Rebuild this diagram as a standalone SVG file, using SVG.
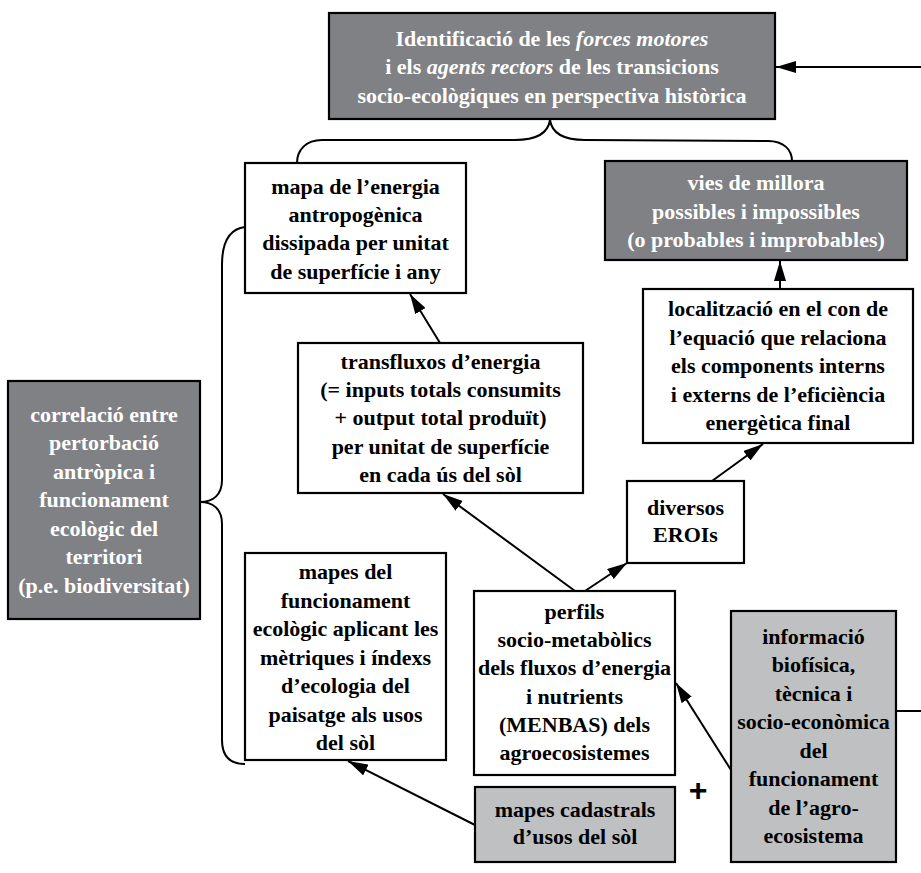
<svg xmlns="http://www.w3.org/2000/svg" width="921" height="873" viewBox="0 0 921 873">
<style>
.box{stroke:#000;stroke-width:2.2}
.white{fill:#fff}
.dark{fill:#808185}
.light{fill:#bfc0c2}
text{font-family:"Liberation Serif","Times New Roman",serif;font-weight:bold;font-size:22px;text-anchor:middle}
.wt{fill:#fff}
.bt{fill:#000}
.it{font-style:italic}
.con{fill:none;stroke:#000;stroke-width:2}
</style>
<defs>
<marker id="ah" viewBox="0 0 20 12" refX="20" refY="6" markerWidth="20" markerHeight="12" markerUnits="userSpaceOnUse" orient="auto">
<path d="M0,0 L20,6 L0,12 Z" fill="#000"/>
</marker>
</defs>
<g id="connectors">
<line class="con" x1="921" y1="67" x2="776" y2="67" marker-end="url(#ah)"/>
<path class="con" d="M550,120 C548,134 535,140 515,140 L322,140 C306,140 297,150 297,163"/>
<path class="con" d="M550,120 C552,134 565,140 585,140 L768,141 C784,141 792,150 792,161"/>
<path class="con" d="M245,227 C229,229 222,242 222,265 L222,480 C222,495 213,502 200,502 C213,502 222,509 222,524 L222,740 C222,757 230,764 245,764"/>
<line class="con" x1="440" y1="343" x2="410" y2="294" marker-end="url(#ah)"/>
<line class="con" x1="780" y1="289" x2="780" y2="261" marker-end="url(#ah)"/>
<line class="con" x1="712" y1="481" x2="763" y2="444" marker-end="url(#ah)"/>
<line class="con" x1="575" y1="591" x2="443" y2="494" marker-end="url(#ah)"/>
<line class="con" x1="585" y1="591" x2="627" y2="563" marker-end="url(#ah)"/>
<line class="con" x1="475" y1="825" x2="348" y2="761" marker-end="url(#ah)"/>
<line class="con" x1="731" y1="770" x2="676" y2="683" marker-end="url(#ah)"/>
<line class="con" x1="896" y1="711" x2="921" y2="711"/>
</g>
<g id="top">
<rect class="box dark" x="329" y="13" width="446" height="106"/>
<text class="wt" x="552" y="46">Identificació de les <tspan class="it">forces motores</tspan></text>
<text class="wt" x="552" y="74">i els <tspan class="it">agents rectors</tspan> de les transicions</text>
<text class="wt" x="552" y="103">socio-ecològiques en perspectiva històrica</text>
</g>
<g id="mapa">
<rect class="box white" x="245" y="163" width="221" height="130"/>
<text class="bt" x="355.5" y="194">mapa de l’energia</text>
<text class="bt" x="355.5" y="222">antropogènica</text>
<text class="bt" x="355.5" y="250">dissipada per unitat</text>
<text class="bt" x="355.5" y="279">de superfície i any</text>
</g>
<g id="vies">
<rect class="box dark" x="605" y="161" width="302" height="99"/>
<text class="wt" x="756" y="190">vies de millora</text>
<text class="wt" x="756" y="219">possibles i impossibles</text>
<text class="wt" x="756" y="247">(o probables i improbables)</text>
</g>
<g id="localitzacio">
<rect class="box white" x="643" y="289" width="270" height="154"/>
<text class="bt" x="778" y="316">localització en el con de</text>
<text class="bt" x="778" y="345">l’equació que relaciona</text>
<text class="bt" x="778" y="373">els components interns</text>
<text class="bt" x="778" y="402">i externs de l’eficiència</text>
<text class="bt" x="778" y="430">energètica final</text>
</g>
<g id="transfluxos">
<rect class="box white" x="298" y="343" width="285" height="150"/>
<text class="bt" x="440.5" y="369">transfluxos d’energia</text>
<text class="bt" x="440.5" y="397">(= inputs totals consumits</text>
<text class="bt" x="440.5" y="425">+ output total produït)</text>
<text class="bt" x="440.5" y="454">per unitat de superfície</text>
<text class="bt" x="440.5" y="482">en cada ús del sòl</text>
</g>
<g id="diversos">
<rect class="box white" x="627" y="481" width="117" height="82"/>
<text class="bt" x="685.5" y="515">diversos</text>
<text class="bt" x="685.5" y="542">EROIs</text>
</g>
<g id="correlacio">
<rect class="box dark" x="8" y="381" width="192" height="238"/>
<text class="wt" x="104" y="422">correlació entre</text>
<text class="wt" x="104" y="450">pertorbació</text>
<text class="wt" x="104" y="479">antròpica i</text>
<text class="wt" x="104" y="507">funcionament</text>
<text class="wt" x="104" y="536">ecològic del</text>
<text class="wt" x="104" y="564">territori</text>
<text class="wt" x="104" y="593">(p.e. biodiversitat)</text>
</g>
<g id="mapes-funcionament">
<rect class="box white" x="245" y="553" width="201" height="207"/>
<text class="bt" x="345.5" y="579">mapes del</text>
<text class="bt" x="345.5" y="608">funcionament</text>
<text class="bt" x="345.5" y="636">ecològic aplicant les</text>
<text class="bt" x="345.5" y="665">mètriques i índexs</text>
<text class="bt" x="345.5" y="693">d’ecologia del</text>
<text class="bt" x="345.5" y="722">paisatge als usos</text>
<text class="bt" x="345.5" y="750">del sòl</text>
</g>
<g id="perfils">
<rect class="box white" x="474" y="591" width="201" height="184"/>
<text class="bt" x="574.5" y="619">perfils</text>
<text class="bt" x="574.5" y="647">socio-metabòlics</text>
<text class="bt" x="574.5" y="675">dels fluxos d’energia</text>
<text class="bt" x="574.5" y="704">i nutrients</text>
<text class="bt" x="574.5" y="732">(MENBAS) dels</text>
<text class="bt" x="574.5" y="760">agroecosistemes</text>
</g>
<g id="cadastrals">
<rect class="box light" x="475" y="787" width="200" height="75"/>
<text class="bt" x="575" y="817">mapes cadastrals</text>
<text class="bt" x="575" y="844">d’usos del sòl</text>
</g>
<g id="informacio">
<rect class="box light" x="731" y="611" width="165" height="251"/>
<text class="bt" x="813.5" y="644">informació</text>
<text class="bt" x="813.5" y="672">biofísica,</text>
<text class="bt" x="813.5" y="701">tècnica i</text>
<text class="bt" x="813.5" y="729">socio-econòmica</text>
<text class="bt" x="813.5" y="758">del</text>
<text class="bt" x="813.5" y="786">funcionament</text>
<text class="bt" x="813.5" y="815">de l’agro-</text>
<text class="bt" x="813.5" y="843">ecosistema</text>
</g>
<g id="plus">
<text x="698" y="801" style="font-family:'Liberation Sans',Arial,sans-serif;font-size:32px;font-weight:bold">+</text>
</g>
</svg>
